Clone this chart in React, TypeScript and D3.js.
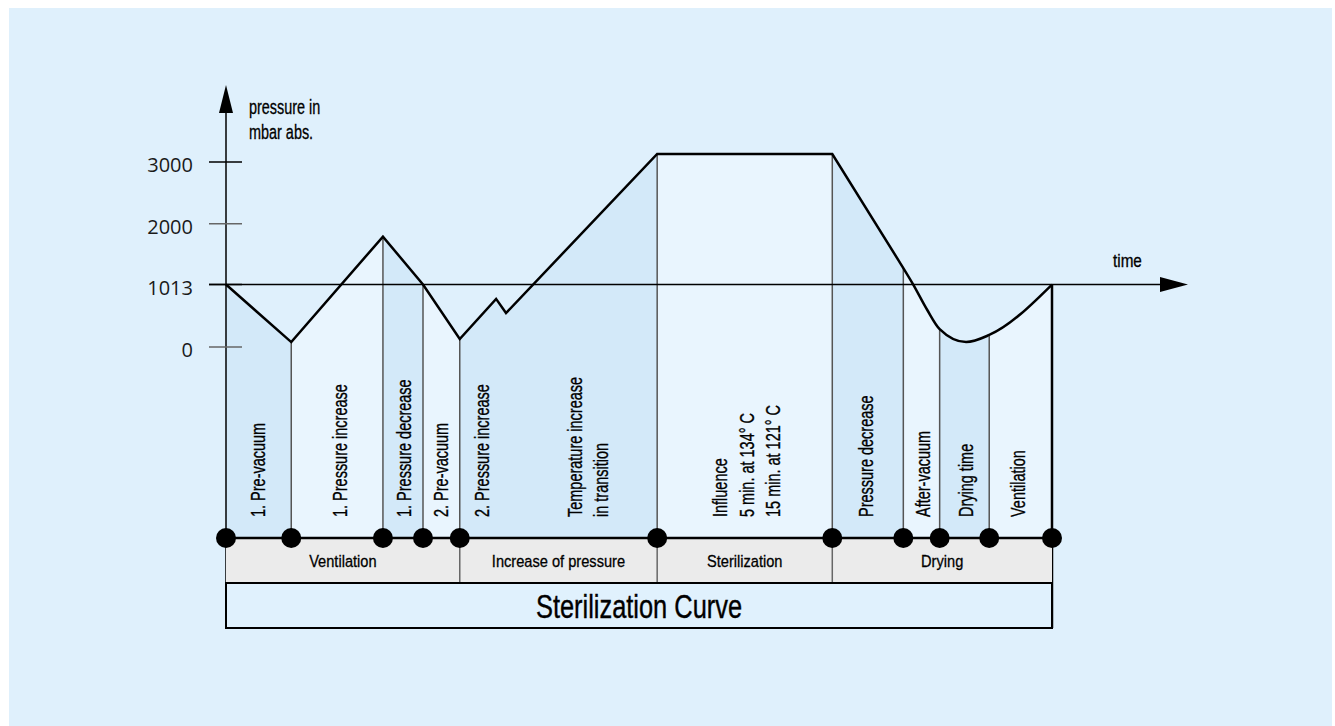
import React, { useEffect, useRef } from "react";
import * as d3 from "d3";

// pressure axis ticks, mbar abs.
const pressureTicks = [0, 1013, 2000, 3000];

// phase boundaries on the time axis (0 = start of cycle, 100 = end)
const phaseBounds = [0, 7.9, 19.0, 23.85, 28.3, 52.2, 73.4, 82.0, 86.4, 92.4, 100];

// pressure curve, straight segments
const curveLinear = [
  { t: 0, p: 1013 },
  { t: 7.9, p: 80 },
  { t: 19.0, p: 1790 },
  { t: 23.85, p: 1013 },
  { t: 28.3, p: 130 },
  { t: 32.7, p: 780 },
  { t: 33.9, p: 550 },
  { t: 52.2, p: 3130 },
  { t: 73.4, p: 3130 },
  { t: 82.0, p: 1280 },
];

// pressure curve, smooth tail (after-vacuum, drying, ventilation)
const curveSmooth = [
  { t: 82.0, p: 1280 },
  { t: 83.2, p: 1013 },
  { t: 84.9, p: 600 },
  { t: 86.4, p: 290 },
  { t: 89.6, p: 80 },
  { t: 92.4, p: 195 },
  { t: 100, p: 1013 },
];

const phaseLabels = [
  ["1. Pre-vacuum"],
  ["1. Pressure increase"],
  ["1. Pressure decrease"],
  ["2. Pre-vacuum"],
  ["2. Pressure increase"],
  ["Temperature increase", "in transition"],
  ["Influence", "5 min. at 134° C", "15 min. at 121° C"],
  ["Pressure decrease"],
  ["After-vacuum"],
  ["Drying time"],
  ["Ventilation"],
];
const phaseLabelAt = [3.8, 13.7, 21.5, 26.0, 30.9, 43.8, 63.0, 77.4, 84.3, 89.5, 95.9];

const stageNames = ["Ventilation", "Increase of pressure", "Sterilization", "Drying"];
const stageBounds = [0, 28.3, 52.2, 73.4, 100];

const FONT = "'Liberation Sans', Arial, sans-serif";

export default function App() {
  const ref = useRef<SVGSVGElement>(null);

  useEffect(() => {
    const svg = d3.select(ref.current);
    svg.selectAll("*").remove();

    const x = d3.scaleLinear().domain([0, 100]).range([226, 1052]);
    const y = d3.scaleLinear().domain([0, 3000]).range([347, 162]);

    const dotY = 538;
    const stageY = 583;
    const titleY = 628;
    const axisTop = 85;

    // background panel
    svg
      .append("rect")
      .attr("x", 9)
      .attr("y", 8)
      .attr("width", 1323)
      .attr("height", 718)
      .style("fill", "#dff0fc");

    // curve path
    const lineA = d3
      .line<{ t: number; p: number }>()
      .x((d) => x(d.t))
      .y((d) => y(d.p));
    const lineB = d3
      .line<{ t: number; p: number }>()
      .x((d) => x(d.t))
      .y((d) => y(d.p))
      .curve(d3.curveMonotoneX);
    const curvePath =
      (lineA(curveLinear) || "") + (lineB(curveSmooth) || "").replace(/^M/, "L");
    const areaPath = curvePath + `L${x(100)},${dotY}L${x(0)},${dotY}Z`;

    svg
      .append("clipPath")
      .attr("id", "under-curve")
      .append("path")
      .attr("d", areaPath);

    const under = svg.append("g").attr("clip-path", "url(#under-curve)");

    // alternating phase fills
    d3.pairs(phaseBounds).forEach(([a, b], i) => {
      under
        .append("rect")
        .attr("x", x(a))
        .attr("y", 100)
        .attr("width", x(b) - x(a))
        .attr("height", dotY - 100)
        .style("fill", i % 2 === 0 ? "#d3e9f9" : "#e9f5fe");
    });

    // phase separators
    phaseBounds.slice(1, -1).forEach((t) => {
      under
        .append("line")
        .attr("x1", x(t))
        .attr("x2", x(t))
        .attr("y1", 100)
        .attr("y2", dotY)
        .style("stroke", "#555")
        .style("stroke-width", 1.5);
    });

    // rotated phase labels
    phaseLabels.forEach((lines, i) => {
      const cx = x(phaseLabelAt[i]);
      lines.forEach((txt, j) => {
        const lx = cx + (j - (lines.length - 1) / 2) * 26.5;
        svg
          .append("text")
          .attr("transform", `translate(${lx},517) rotate(-90) scale(0.69,1)`)
          .attr("dy", "0.35em")
          .style("font-family", FONT)
          .style("font-size", "21px")
          .style("fill", "#000")
          .style("stroke", "#000")
          .style("stroke-width", 0.35)
          .text(txt);
      });
    });

    // time axis (1013 mbar)
    const y1013 = y(1013);
    svg
      .append("line")
      .attr("x1", 209)
      .attr("x2", 1162)
      .attr("y1", y1013)
      .attr("y2", y1013)
      .style("stroke", "#000")
      .style("stroke-width", 1.5);
    svg
      .append("polygon")
      .attr("points", `1188,${y1013} 1160,${y1013 - 7.5} 1160,${y1013 + 7.5}`)
      .style("fill", "#000");

    // pressure axis
    svg
      .append("line")
      .attr("x1", x(0))
      .attr("x2", x(0))
      .attr("y1", axisTop + 20)
      .attr("y2", titleY)
      .style("stroke", "#000")
      .style("stroke-width", 1.5);
    svg
      .append("polygon")
      .attr("points", `${x(0)},${axisTop} ${x(0) - 7},${axisTop + 28} ${x(0) + 7},${axisTop + 28}`)
      .style("fill", "#000");

    pressureTicks.forEach((p) => {
      svg
        .append("line")
        .attr("x1", 209)
        .attr("x2", 242)
        .attr("y1", y(p))
        .attr("y2", y(p))
        .style("stroke", p === 3000 || p === 1013 ? "#000" : "#666")
        .style("stroke-width", 1.5);
      svg
        .append("text")
        .attr("x", 193)
        .attr("y", y(p) + 10)
        .style("text-anchor", "end")
        .style("font-family", "'Open Sans', sans-serif")
        .style("font-size", "20px")
        .style("fill", "#1a1a1a")
        .text(String(p));
    });

    // axis titles
    ["pressure in", "mbar abs."].forEach((txt, i) => {
      svg
        .append("text")
        .attr("transform", `translate(249,${114 + i * 24.5}) scale(0.74,1)`)
        .style("font-family", FONT)
        .style("font-size", "19.5px")
        .style("fill", "#000")
        .style("stroke", "#000")
        .style("stroke-width", 0.3)
        .text(txt);
    });
    svg
      .append("text")
      .attr("transform", `translate(1113,267) scale(0.85,1)`)
      .style("font-family", FONT)
      .style("font-size", "18px")
      .style("fill", "#000")
      .style("stroke", "#000")
      .style("stroke-width", 0.3)
      .text("time");

    // right edge of the cycle
    svg
      .append("line")
      .attr("x1", x(100))
      .attr("x2", x(100))
      .attr("y1", y(1013))
      .attr("y2", titleY)
      .style("stroke", "#000")
      .style("stroke-width", 2.5);

    // the curve itself
    svg
      .append("path")
      .attr("d", curvePath)
      .style("fill", "none")
      .style("stroke", "#000")
      .style("stroke-width", 2.5)
      .style("stroke-linejoin", "miter");

    // stage band
    svg
      .append("rect")
      .attr("x", x(0))
      .attr("y", dotY)
      .attr("width", x(100) - x(0))
      .attr("height", stageY - dotY)
      .style("fill", "#ebebeb");

    stageBounds.slice(1, -1).forEach((t) => {
      svg
        .append("line")
        .attr("x1", x(t))
        .attr("x2", x(t))
        .attr("y1", dotY)
        .attr("y2", stageY)
        .style("stroke", "#666")
        .style("stroke-width", 1.5);
    });

    d3.pairs(stageBounds).forEach(([a, b], i) => {
      svg
        .append("text")
        .attr("transform", `translate(${(x(a) + x(b)) / 2},567) scale(0.86,1)`)
        .style("text-anchor", "middle")
        .style("font-family", FONT)
        .style("font-size", "17px")
        .style("fill", "#000")
        .style("stroke", "#000")
        .style("stroke-width", 0.3)
        .text(stageNames[i]);
    });

    // title band
    svg
      .append("rect")
      .attr("x", x(0))
      .attr("y", stageY)
      .attr("width", x(100) - x(0))
      .attr("height", titleY - stageY)
      .style("fill", "#e0f1fd")
      .style("stroke", "#000")
      .style("stroke-width", 2);

    svg
      .append("text")
      .attr("transform", `translate(${(x(0) + x(100)) / 2},618) scale(0.77,1)`)
      .style("text-anchor", "middle")
      .style("font-family", FONT)
      .style("font-size", "33px")
      .style("fill", "#000")
      .style("stroke", "#000")
      .style("stroke-width", 0.4)
      .text("Sterilization Curve");

    // dot line and phase dots
    svg
      .append("line")
      .attr("x1", x(0))
      .attr("x2", x(100))
      .attr("y1", dotY)
      .attr("y2", dotY)
      .style("stroke", "#000")
      .style("stroke-width", 2.5);

    svg
      .append("g")
      .selectAll("circle")
      .data(phaseBounds)
      .join("circle")
      .attr("cx", (d) => x(d))
      .attr("cy", dotY)
      .attr("r", 10)
      .style("fill", "#000");
  }, []);

  return (
    <svg
      ref={ref}
      width={1335}
      height={726}
      style={{ position: "fixed", left: 0, top: 0, display: "block" }}
    />
  );
}
